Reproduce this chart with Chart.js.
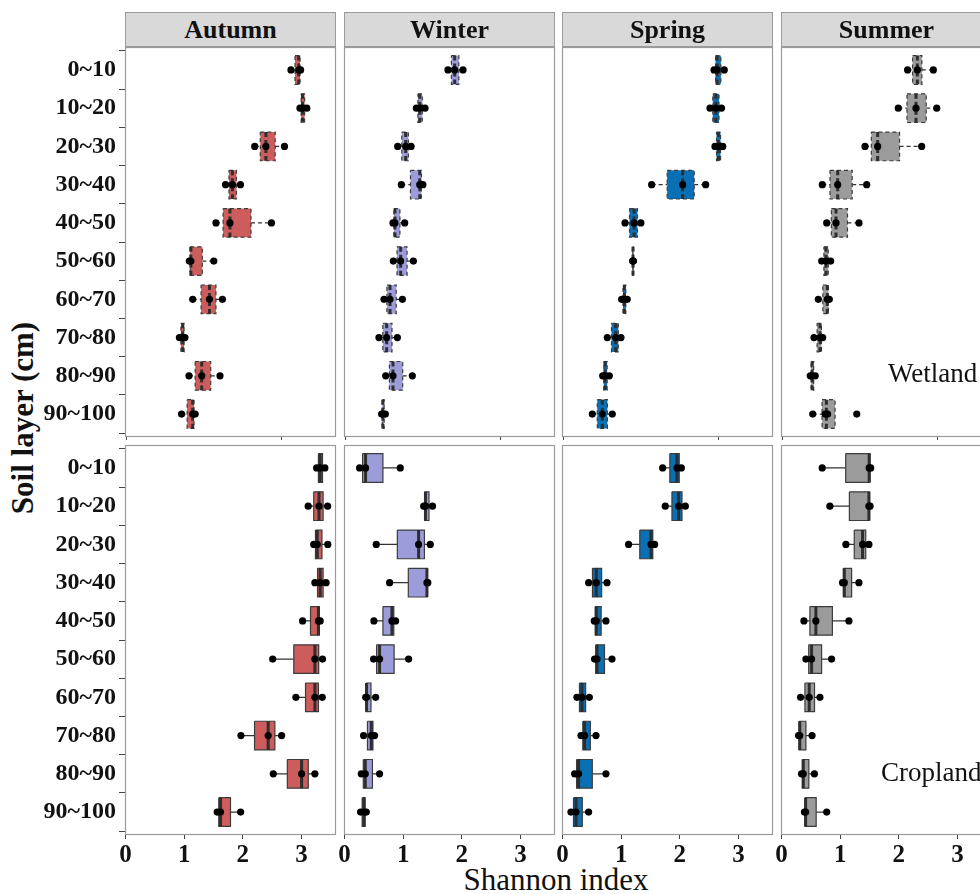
<!DOCTYPE html>
<html>
<head>
<meta charset="utf-8">
<script src="https://cdn.jsdelivr.net/npm/chart.js@4.4.1/dist/chart.umd.min.js"></script>
<style>
  html, body { margin: 0; padding: 0; background: #fff; }
  body { width: 980px; height: 894px; overflow: hidden; position: relative;
         font-family: 'Liberation Serif', 'Times New Roman', serif; }
  canvas { position: absolute; }
  .strip { position: absolute; top: 12px; height: 35px; width: 211px; box-sizing: border-box;
           background: #d9d9d9; border: 1px solid #9a9a9a; text-align: center;
           font-weight: bold; font-size: 26px; line-height: 33px; color: #111; z-index: 2; }
  .note { position: absolute; font-size: 27px; color: #111; line-height: 1; white-space: nowrap; z-index: 3; }
  .ytitle { position: absolute; left: 23px; top: 418px; transform: translate(-50%, -50%) rotate(-90deg);
            font-weight: bold; font-size: 31px; white-space: nowrap; color: #111; }
  .xtitle { position: absolute; left: 556px; top: 880px; transform: translate(-50%, -50%);
            font-size: 31px; white-space: nowrap; color: #111; }
</style>
</head>
<body>
<div class="ytitle">Soil layer (cm)</div>
<div class="xtitle">Shannon index</div>
<div class="note" style="left:888px; top:360px;">Wetland</div>
<div class="note" style="left:881px; top:759px;">Cropland</div>
<script>
const layers = ['0~10', '10~20', '20~30', '30~40', '40~50', '50~60', '60~70', '70~80', '80~90', '90~100'];
const seasons = ['Autumn', 'Winter', 'Spring', 'Summer'];
const seasonFill = ['#CD5C5C', '#9C9CDB', '#0A70B5', '#9B9B9B'];
const xTicksWet = [0, 2.5];
const xTicksCrop = [0, 1, 2, 3];

// box stats per layer: [lower whisker, q1, median, q3, upper whisker]
const autumnWetBox = [
  [2.645, 2.71, 2.77, 2.79, 2.80], [2.79, 2.81, 2.83, 2.865, 2.90], [2.06, 2.15, 2.24, 2.39, 2.54],
  [1.59, 1.645, 1.70, 1.765, 1.83], [1.435, 1.55, 1.66, 2.0, 2.33], [1.005, 1.02, 1.03, 1.215, 1.40],
  [1.06, 1.195, 1.33, 1.435, 1.54], [0.845, 0.87, 0.90, 0.92, 0.935], [1.0, 1.10, 1.205, 1.35, 1.5],
  [0.88, 0.97, 1.06, 1.08, 1.10]
];
const autumnWetPts = [
  [2.645, 2.77, 2.80], [2.79, 2.83, 2.90], [2.06, 2.24, 2.54], [1.59, 1.70, 1.83], [1.435, 1.66, 2.33],
  [1.005, 1.03, 1.40], [1.06, 1.33, 1.54], [0.845, 0.90, 0.935], [1.0, 1.205, 1.5], [0.88, 1.06, 1.10]
];
const winterWetBox = [
  [1.645, 1.70, 1.753, 1.82, 1.887], [1.135, 1.16, 1.19, 1.23, 1.274], [0.834, 0.90, 0.963, 1.006, 1.05],
  [0.893, 1.04, 1.19, 1.215, 1.24], [0.758, 0.774, 0.79, 0.87, 0.947], [0.764, 0.823, 0.882, 0.985, 1.087],
  [0.613, 0.66, 0.71, 0.81, 0.91], [0.532, 0.594, 0.656, 0.742, 0.829], [0.64, 0.70, 0.758, 0.915, 1.07],
  [0.575, 0.585, 0.595, 0.615, 0.635]
];
const winterWetPts = [
  [1.645, 1.753, 1.887], [1.135, 1.19, 1.274], [0.834, 0.963, 1.05], [0.893, 1.19, 1.24], [0.758, 0.79, 0.947],
  [0.764, 0.882, 1.087], [0.613, 0.71, 0.91], [0.532, 0.656, 0.829], [0.64, 0.758, 1.07], [0.575, 0.595, 0.635]
];
const springWetBox = [
  [2.42, 2.445, 2.47, 2.53, 2.585], [2.355, 2.40, 2.45, 2.50, 2.54], [2.435, 2.46, 2.49, 2.525, 2.56],
  [1.414, 1.664, 1.914, 2.10, 2.285], [0.984, 1.057, 1.13, 1.185, 1.24], [1.108, 1.11, 1.113, 1.116, 1.12],
  [0.93, 0.952, 0.973, 0.997, 1.02], [0.699, 0.766, 0.833, 0.876, 0.919], [0.624, 0.643, 0.661, 0.696, 0.731],
  [0.457, 0.537, 0.618, 0.70, 0.779]
];
const springWetPts = [
  [2.42, 2.47, 2.585], [2.355, 2.45, 2.54], [2.435, 2.49, 2.56], [1.414, 1.914, 2.285], [0.984, 1.13, 1.24],
  [1.108, 1.113, 1.12], [0.93, 0.973, 1.02], [0.699, 0.833, 0.919], [0.624, 0.661, 0.731], [0.457, 0.618, 0.779]
];
const summerWetBox = [
  [2.01, 2.09, 2.167, 2.24, 2.425], [1.86, 2.0, 2.145, 2.31, 2.48], [1.323, 1.425, 1.527, 1.88, 2.237],
  [0.634, 0.758, 0.882, 1.116, 1.35], [0.705, 0.78, 0.855, 1.04, 1.226], [0.624, 0.66, 0.694, 0.73, 0.769],
  [0.57, 0.643, 0.715, 0.731, 0.747], [0.50, 0.55, 0.597, 0.62, 0.64], [0.44, 0.455, 0.47, 0.495, 0.52],
  [0.48, 0.63, 0.70, 0.84, 0.84]
];
const summerWetPts = [
  [2.01, 2.167, 2.425], [1.86, 2.145, 2.48], [1.323, 1.527, 2.237], [0.634, 0.882, 1.35], [0.705, 0.855, 1.226],
  [0.624, 0.694, 0.769], [0.57, 0.715, 0.747], [0.50, 0.597, 0.64], [0.44, 0.47, 0.52], [0.48, 0.68, 0.72, 1.19]
];

const autumnCropBox = [
  [3.26, 3.29, 3.32, 3.36, 3.40], [3.116, 3.21, 3.30, 3.37, 3.447], [3.21, 3.24, 3.27, 3.35, 3.45],
  [3.23, 3.275, 3.32, 3.37, 3.42], [3.02, 3.155, 3.29, 3.305, 3.32], [2.51, 2.87, 3.23, 3.295, 3.36],
  [2.906, 3.07, 3.23, 3.29, 3.355], [1.968, 2.2, 2.433, 2.547, 2.662], [2.52, 2.76, 3.003, 3.117, 3.23],
  [1.563, 1.59, 1.62, 1.79, 1.963]
];
const autumnCropPts = [
  [3.26, 3.32, 3.40], [3.116, 3.30, 3.447], [3.21, 3.27, 3.45], [3.23, 3.32, 3.42], [3.02, 3.29, 3.32],
  [2.51, 3.23, 3.36], [2.906, 3.23, 3.355], [1.968, 2.433, 2.662], [2.52, 3.003, 3.23], [1.563, 1.62, 1.963]
];
const winterCropBox = [
  [0.256, 0.307, 0.358, 0.654, 0.95], [1.35, 1.365, 1.38, 1.44, 1.50], [0.54, 0.90, 1.263, 1.362, 1.462],
  [0.768, 1.087, 1.405, 1.412, 1.42], [0.50, 0.654, 0.808, 0.84, 0.87], [0.495, 0.546, 0.597, 0.845, 1.092],
  [0.36, 0.367, 0.375, 0.45, 0.53], [0.324, 0.39, 0.455, 0.484, 0.512], [0.285, 0.319, 0.353, 0.475, 0.597],
  [0.273, 0.30, 0.33, 0.35, 0.37]
];
const winterCropPts = [
  [0.256, 0.358, 0.95], [1.35, 1.38, 1.50], [0.54, 1.263, 1.462], [0.768, 1.405, 1.42], [0.50, 0.808, 0.87],
  [0.495, 0.597, 1.092], [0.36, 0.375, 0.53], [0.324, 0.455, 0.512], [0.285, 0.353, 0.597], [0.273, 0.33, 0.37]
];
const springCropBox = [
  [1.707, 1.83, 1.952, 1.99, 2.026], [1.752, 1.866, 1.98, 2.037, 2.094], [1.126, 1.317, 1.508, 1.539, 1.57],
  [0.444, 0.51, 0.575, 0.666, 0.758], [0.541, 0.558, 0.575, 0.658, 0.74], [0.546, 0.566, 0.587, 0.715, 0.843],
  [0.245, 0.288, 0.331, 0.393, 0.456], [0.314, 0.345, 0.376, 0.473, 0.57], [0.205, 0.239, 0.273, 0.507, 0.74],
  [0.143, 0.186, 0.229, 0.336, 0.444]
];
const springCropPts = [
  [1.707, 1.952, 2.026], [1.752, 1.98, 2.094], [1.126, 1.508, 1.57], [0.444, 0.575, 0.758], [0.541, 0.575, 0.74],
  [0.546, 0.587, 0.843], [0.245, 0.331, 0.456], [0.314, 0.376, 0.57], [0.205, 0.273, 0.74], [0.143, 0.229, 0.444]
];
const summerCropBox = [
  [0.693, 1.094, 1.495, 1.507, 1.52], [0.824, 1.157, 1.49, 1.50, 1.51], [1.097, 1.24, 1.382, 1.436, 1.49],
  [1.04, 1.055, 1.07, 1.195, 1.32], [0.381, 0.483, 0.585, 0.867, 1.149], [0.415, 0.463, 0.512, 0.683, 0.853],
  [0.324, 0.398, 0.471, 0.562, 0.654], [0.29, 0.30, 0.31, 0.415, 0.52], [0.34, 0.355, 0.37, 0.465, 0.56],
  [0.39, 0.40, 0.41, 0.59, 0.77]
];
const summerCropPts = [
  [0.693, 1.495, 1.52], [0.824, 1.49, 1.51], [1.097, 1.382, 1.49], [1.04, 1.07, 1.32], [0.381, 0.585, 1.149],
  [0.415, 0.512, 0.853], [0.324, 0.471, 0.654], [0.29, 0.31, 0.52], [0.34, 0.37, 0.56], [0.39, 0.41, 0.77]
];

const panels = [
  { row: 0, col: 0, box: autumnWetBox, pts: autumnWetPts },
  { row: 0, col: 1, box: winterWetBox, pts: winterWetPts },
  { row: 0, col: 2, box: springWetBox, pts: springWetPts },
  { row: 0, col: 3, box: summerWetBox, pts: summerWetPts },
  { row: 1, col: 0, box: autumnCropBox, pts: autumnCropPts },
  { row: 1, col: 1, box: winterCropBox, pts: winterCropPts },
  { row: 1, col: 2, box: springCropBox, pts: springCropPts },
  { row: 1, col: 3, box: summerCropBox, pts: summerCropPts }
];

// layout (px)
const COL_LEFT = [125, 344, 562, 781];
const ROW_TOP = [47, 445];
const PW = 211, PH = 390, YW = 125, PAD = 4;
const HALF = 0.375; // half box height in category units
const GAP = { x: null, y: null };

Chart.defaults.font.family = "'Liberation Serif', 'Times New Roman', serif";
Chart.defaults.color = '#111';

const panelBorder = {
  id: 'panelBorder',
  afterDraw(chart) {
    const { ctx, chartArea: a } = chart;
    ctx.save();
    ctx.strokeStyle = '#9a9a9a';
    ctx.lineWidth = 1.2;
    ctx.strokeRect(Math.round(a.left) + 0.5, Math.round(a.top) + 0.5, Math.round(a.width) - 1, Math.round(a.height) - 1);
    ctx.restore();
  }
};

// keep the plot area fixed: no extra room for overflowing tick labels
function noPadding(s) {
  s.paddingTop = 0; s.paddingBottom = 0; s.paddingLeft = 0; s.paddingRight = 0;
}

seasons.forEach((s, i) => {
  const d = document.createElement('div');
  d.className = 'strip';
  d.style.left = COL_LEFT[i] + 'px';
  d.textContent = s;
  document.body.appendChild(d);
});

panels.forEach(p => {
  const wet = p.row === 0;
  const xh = wet ? 6 : 45;
  const w = YW + PW + PAD, h = PAD + PH + xh;
  const cv = document.createElement('canvas');
  cv.width = w; cv.height = h;
  cv.style.left = (COL_LEFT[p.col] - YW) + 'px';
  cv.style.top = (ROW_TOP[p.row] - PAD) + 'px';
  cv.style.width = w + 'px'; cv.style.height = h + 'px';
  document.body.appendChild(cv);

  const xMin = wet ? -0.032 : -0.01;
  const xMax = wet ? 3.371 : 3.59;
  const xt = wet ? xTicksWet : xTicksCrop;
  const dash = wet ? [4, 3] : [];

  const fillData = [], outline = [], whisk = [], med = [], dots = [];
  p.box.forEach((b, i) => {
    const y = i + 1;
    fillData.push({ y: y, x: [b[1], b[3]] });
    outline.push({ x: b[1], y: y - HALF }, { x: b[3], y: y - HALF }, { x: b[3], y: y + HALF },
                 { x: b[1], y: y + HALF }, { x: b[1], y: y - HALF }, GAP);
    whisk.push({ x: b[0], y: y }, { x: b[1], y: y }, GAP, { x: b[3], y: y }, { x: b[4], y: y }, GAP);
    med.push({ x: b[2], y: y - HALF }, { x: b[2], y: y + HALF }, GAP);
  });
  p.pts.forEach((arr, i) => arr.forEach(v => dots.push({ x: v, y: i + 1 })));

  new Chart(cv, {
    type: 'bar',
    data: {
      datasets: [
        { type: 'scatter', data: dots, backgroundColor: '#000', borderColor: '#000', pointRadius: 3.6, pointBorderWidth: 0, order: 0 },
        { type: 'line', data: med, borderColor: '#2e2e2e', borderWidth: 3, borderDash: wet ? [5, 3] : [], pointRadius: 0, spanGaps: false, order: 1 },
        { type: 'line', data: outline, borderColor: '#3c3c3c', borderWidth: 1.2, borderDash: dash, pointRadius: 0, spanGaps: false, order: 2 },
        { type: 'line', data: whisk, borderColor: '#333', borderWidth: 1.2, borderDash: dash, pointRadius: 0, spanGaps: false, order: 3 },
        { type: 'bar', data: fillData, backgroundColor: seasonFill[p.col], borderWidth: 0,
          categoryPercentage: 1, barPercentage: 0.75, order: 4 }
      ]
    },
    options: {
      indexAxis: 'y',
      responsive: false,
      devicePixelRatio: 1,
      animation: false,
      events: [],
      layout: { padding: { top: PAD, right: PAD, left: 0, bottom: 0 } },
      plugins: { legend: { display: false }, tooltip: { enabled: false } },
      scales: {
        y: {
          type: 'linear', reverse: true, min: 0.4, max: 10.6, offset: false,
          afterBuildTicks: s => { s.ticks = layers.map((_, i) => ({ value: i + 1 })); },
          afterFit: s => { s.width = YW; noPadding(s); },
          ticks: { display: p.col === 0, autoSkip: false, padding: 3, color: '#111',
                   font: { size: 24, weight: 'bold' }, callback: v => layers[v - 1] },
          grid: { display: p.col === 0, drawOnChartArea: false, drawTicks: true, tickLength: 6, color: '#444' },
          border: { display: false }
        },
        x: {
          type: 'linear', min: xMin, max: xMax, offset: false,
          afterBuildTicks: s => { s.ticks = xt.map(v => ({ value: v })); },
          afterFit: s => { s.height = xh; noPadding(s); },
          ticks: { display: !wet, autoSkip: false, maxRotation: 0, padding: 2, color: '#111',
                   font: { size: 25, weight: 'bold' } },
          grid: { drawOnChartArea: false, drawTicks: true, tickLength: wet ? 3 : 4, color: '#444' },
          border: { display: false }
        }
      }
    },
    plugins: [panelBorder]
  });
});
</script>
</body>
</html>
